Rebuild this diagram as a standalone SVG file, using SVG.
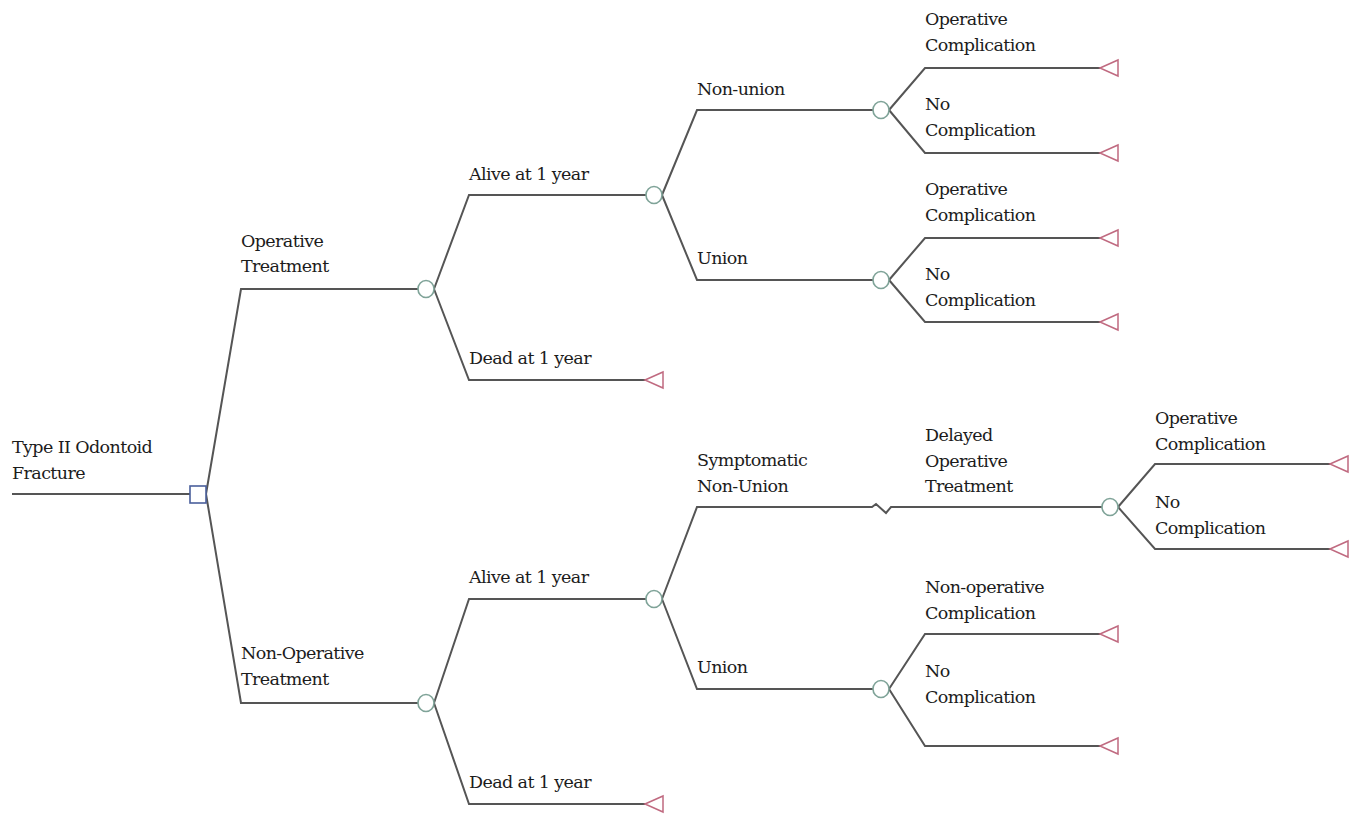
<svg xmlns="http://www.w3.org/2000/svg" width="1360" height="817" viewBox="0 0 1360 817">
<style>
.ln{fill:none;stroke:#555;stroke-width:2}
.ch{fill:#fff;stroke:#7fa398;stroke-width:1.6}
.tm{fill:#fff;stroke:#c06a80;stroke-width:1.5}
.dc{fill:#fff;stroke:#4a5f9c;stroke-width:1.6}
</style>
<rect width="1360" height="817" fill="#fff"/>
<g id="connectors">
<path class="ln" d="M12,494 H190"/>
<path class="ln" d="M206,494 L241,289 H418"/>
<path class="ln" d="M206,494 L241,703 H418"/>
<path class="ln" d="M434,289 L469,195 H646"/>
<path class="ln" d="M434,289 L469,380 H645"/>
<path class="ln" d="M662,195 L697,110 H873"/>
<path class="ln" d="M662,195 L697,280 H873"/>
<path class="ln" d="M889,110 L925,68 H1100"/>
<path class="ln" d="M889,110 L925,153 H1100"/>
<path class="ln" d="M889,280 L925,238 H1100"/>
<path class="ln" d="M889,280 L925,322 H1100"/>
<path class="ln" d="M434,703 L469,599 H646"/>
<path class="ln" d="M434,703 L469,804 H645"/>
<path class="ln" d="M662,599 L697,507 H872 L876,504 L886,513 L891,507 H1102"/>
<path class="ln" d="M662,599 L697,689 H873"/>
<path class="ln" d="M1118,507 L1155,464 H1330"/>
<path class="ln" d="M1118,507 L1155,549 H1330"/>
<path class="ln" d="M889,689 L925,634 H1100"/>
<path class="ln" d="M889,689 L925,746 H1100"/>
</g>
<g font-family="DejaVu Serif, serif" font-size="17.5" fill="#1c1c1c" letter-spacing="-0.6">
<g id="root"><rect class="dc" x="190" y="486" width="16" height="17"/><text x="12" y="453">Type II Odontoid</text><text x="12" y="479">Fracture</text></g>
<g id="op"><text x="241" y="247">Operative</text><text x="241" y="272">Treatment</text><ellipse class="ch" cx="426" cy="289" rx="8" ry="8.5"/></g>
<g id="op-alive"><text x="469" y="180">Alive at 1 year</text><ellipse class="ch" cx="654" cy="195" rx="8" ry="8.5"/></g>
<g id="op-dead"><text x="469" y="364">Dead at 1 year</text><polygon class="tm" points="645,380 663,372 663,388"/></g>
<g id="op-nonunion"><text x="697" y="95">Non-union</text><ellipse class="ch" cx="881" cy="110" rx="8" ry="8.5"/></g>
<g id="op-union"><text x="697" y="264">Union</text><ellipse class="ch" cx="881" cy="280" rx="8" ry="8.5"/></g>
<g id="t1"><text x="925" y="25">Operative</text><text x="925" y="51">Complication</text><polygon class="tm" points="1100,68 1118,60 1118,76"/></g>
<g id="t2"><text x="925" y="110">No</text><text x="925" y="136">Complication</text><polygon class="tm" points="1100,153 1118,145 1118,161"/></g>
<g id="t3"><text x="925" y="195">Operative</text><text x="925" y="221">Complication</text><polygon class="tm" points="1100,238 1118,230 1118,246"/></g>
<g id="t4"><text x="925" y="280">No</text><text x="925" y="306">Complication</text><polygon class="tm" points="1100,322 1118,314 1118,330"/></g>
<g id="nonop"><text x="241" y="659">Non-Operative</text><text x="241" y="685">Treatment</text><ellipse class="ch" cx="426" cy="703" rx="8" ry="8.5"/></g>
<g id="nonop-alive"><text x="469" y="583">Alive at 1 year</text><ellipse class="ch" cx="654" cy="599" rx="8" ry="8.5"/></g>
<g id="nonop-dead"><text x="469" y="788">Dead at 1 year</text><polygon class="tm" points="645,804 663,796 663,812"/></g>
<g id="symp"><text x="697" y="466">Symptomatic</text><text x="697" y="492">Non-Union</text></g>
<g id="delayed"><text x="925" y="441">Delayed</text><text x="925" y="467">Operative</text><text x="925" y="492">Treatment</text><ellipse class="ch" cx="1110" cy="507" rx="8" ry="8.5"/></g>
<g id="nonop-union"><text x="697" y="673">Union</text><ellipse class="ch" cx="881" cy="689" rx="8" ry="8.5"/></g>
<g id="t5"><text x="1155" y="424">Operative</text><text x="1155" y="450">Complication</text><polygon class="tm" points="1330,464 1348,456 1348,472"/></g>
<g id="t6"><text x="1155" y="508">No</text><text x="1155" y="534">Complication</text><polygon class="tm" points="1330,549 1348,541 1348,557"/></g>
<g id="t7"><text x="925" y="593">Non-operative</text><text x="925" y="619">Complication</text><polygon class="tm" points="1100,634 1118,626 1118,642"/></g>
<g id="t8"><text x="925" y="677">No</text><text x="925" y="703">Complication</text><polygon class="tm" points="1100,746 1118,738 1118,754"/></g>
</g>
</svg>
